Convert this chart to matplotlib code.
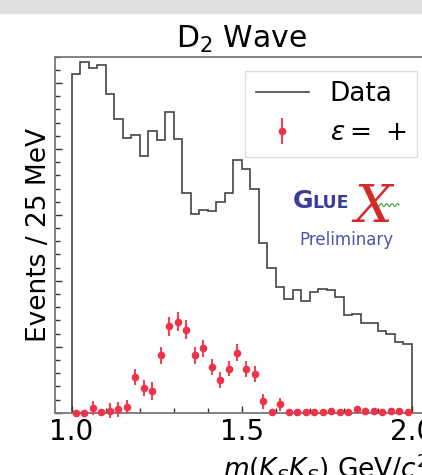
import numpy as np
import matplotlib.pyplot as plt
from matplotlib.patches import Rectangle
from matplotlib.lines import Line2D
from matplotlib.ticker import MultipleLocator

# binning: 25 MeV bins from 1.0 to 2.0 GeV
bordas = np.linspace(1.0, 2.0, 41)
centros = 0.5 * (bordas[:-1] + bordas[1:])

# histograma dos dados
dados = [514, 532, 523, 528, 484, 445, 417, 421, 389, 427,
         413, 456, 415, 334, 301, 308, 306, 319, 333, 383,
         369, 340, 257, 219, 191, 173, 186, 170, 183, 188,
         186, 175, 148, 150, 136, 136, 124, 119, 108, 104]

# onda D2, reflectividade +
onda_d2 = [0, 0, 7, 0.5, 3, 5, 9, 54, 38, 33,
           87, 131, 138, 126, 87, 98, 69, 50, 67, 91,
           66, 59, 17, 0.5, 13, 1, 1.5, 1.5, 1.5, 1,
           3, 1.5, 1.5, 5, 3, 2.5, 0.5, 3, 3, 1.5]
erro_d2 = [0, 0, 10, 1, 11, 11, 11, 12, 12, 13,
           13, 14, 14, 14, 13, 13, 12, 12, 12, 13,
           12, 12, 11, 1, 10, 2, 2, 2, 2, 2,
           2, 2, 2, 2, 2, 2, 2, 2, 2, 2]

W, H = 422, 475
fig = plt.figure(figsize=(W / 100, H / 100), dpi=100)

# faixa cinza no topo (recorte da tela)
fig.add_artist(Rectangle((0, 1 - 13 / H), 1, 13 / H, transform=fig.transFigure,
                         color='#e0e0e0', zorder=0))

ax = fig.add_axes([54.5 / W, (H - 412.7) / H, (429 - 54.5) / W, 356 / H])

ax.stairs(dados, bordas, baseline=0, color='#444444', lw=1.2, label='Data')
ax.errorbar(centros, onda_d2, yerr=erro_d2, fmt='o', ms=4.5, color='#ee3348',
            ecolor='#ee4458', elinewidth=1.5, capsize=0, clip_on=False,
            label=r'$\varepsilon =$ +', zorder=3)

ax.set_xlim(0.95, 2.05)
ax.set_ylim(0, 540)
ax.xaxis.set_major_locator(MultipleLocator(0.5))
ax.xaxis.set_minor_locator(MultipleLocator(0.1))
ax.yaxis.set_major_locator(MultipleLocator(100))
ax.yaxis.set_minor_locator(MultipleLocator(20))
ax.tick_params(which='both', direction='in', labelleft=False, labelsize=20,
               color='#333333', top=False, right=False)
ax.tick_params(which='major', length=5, width=1)
ax.tick_params(which='minor', length=3.5, width=1)
ax.xaxis.set_major_formatter(plt.FuncFormatter(lambda v, p: f'{v:.1f}'))
for s in ax.spines.values():
    s.set_color('#777777')
    s.set_linewidth(1.3)

ax.set_title(r'D$_2$ Wave', fontsize=21.5, pad=6)
ax.set_xlabel(r'$m(K_SK_S)$ GeV/$c^2$', fontsize=19, loc='right')
ax.set_ylabel('Events / 25 MeV', fontsize=19, labelpad=2)

leg = ax.legend(loc='upper right', bbox_to_anchor=(0.967, 0.961), borderaxespad=0,
                fontsize=19, fancybox=False, edgecolor='#dddddd', framealpha=1,
                handlelength=2.0, handletextpad=0.8, borderpad=0.4)

# logo GlueX (aproximado)
def fx(px):
    return px / W

def fy(py):
    return 1 - py / H

fig.text(fx(293), fy(208), 'G', fontsize=18, weight='bold', color='#3a3d9c',
         ha='left', va='baseline')
fig.text(fx(312), fy(208), 'LUE', fontsize=12.5, weight='bold', color='#3a3d9c',
         ha='left', va='baseline')
fig.text(fx(373), fy(207), 'X', fontsize=38, style='italic', family='DejaVu Serif',
         color='#d42a2a', ha='center', va='center')
tx = np.linspace(377, 399, 60)
ty = 205 + 1.5 * np.sin((tx - 377) / 22 * 2 * np.pi * 4)
fig.add_artist(Line2D(fx(tx), fy(ty), transform=fig.transFigure, color='#40a040', lw=0.8))
fig.text(fx(346), fy(240), 'Preliminary', fontsize=12, color='#4a55a8',
         ha='center', va='center')

fig.savefig('out.png', dpi=100)
